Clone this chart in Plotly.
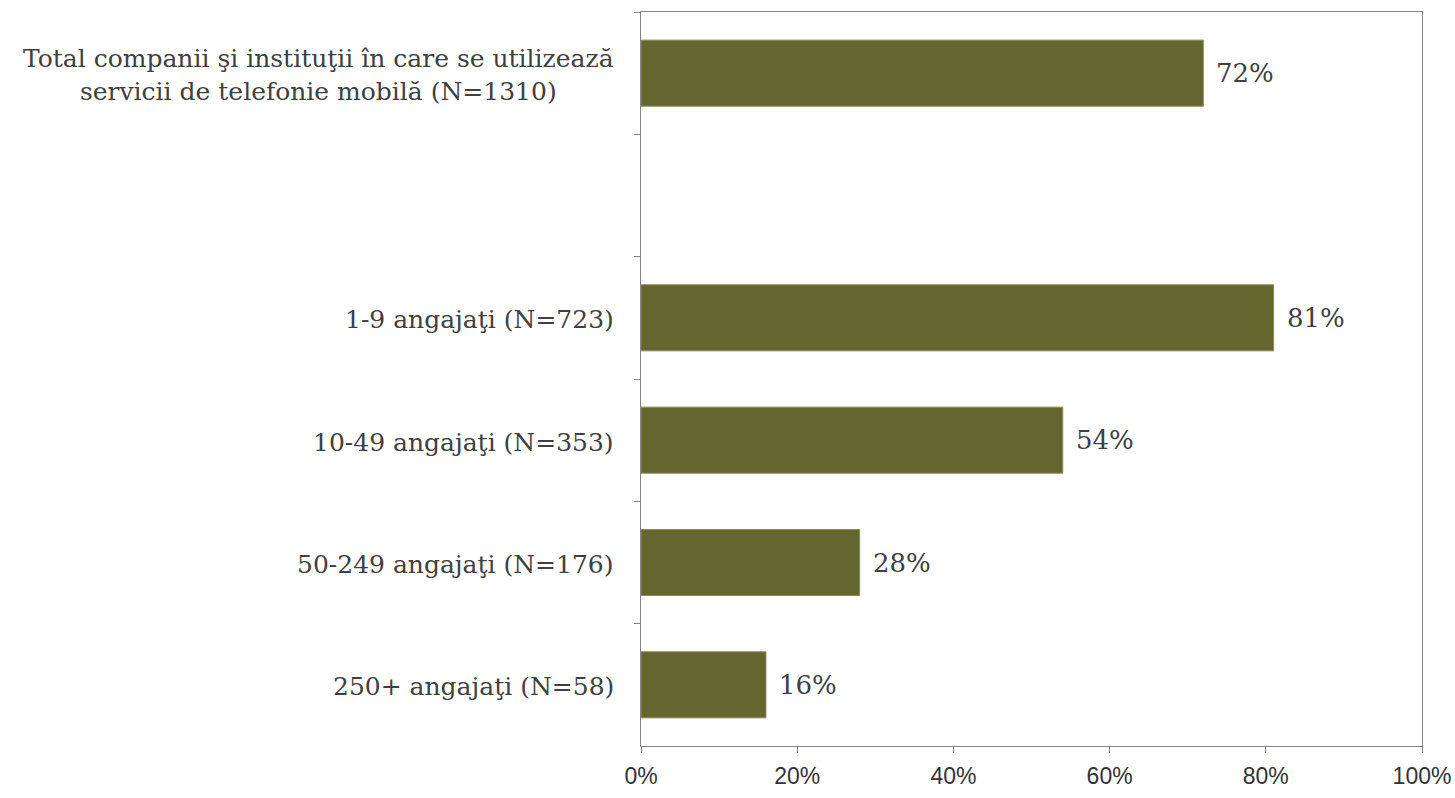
import plotly.graph_objects as go

categories = [
    "Total companii şi instituţii în care se utilizează<br>servicii de telefonie mobilă (N=1310)",
    " ",
    "1-9 angajaţi (N=723)",
    "10-49 angajaţi (N=353)",
    "50-249 angajaţi (N=176)",
    "250+ angajaţi (N=58)",
]
values = [72, None, 81, 54, 28, 16]
x_ticks = [0, 20, 40, 60, 80, 100]
x_tick_labels = ["0%", "20%", "40%", "60%", "80%", "100%"]

SERIF = "DejaVu Serif, Liberation Serif, serif"
BAR = "#65652f"

fig = go.Figure()
fig.add_trace(go.Bar(
    y=categories, x=values, orientation="h",
    marker=dict(color=BAR, line=dict(color="#8a8a5a", width=1)),
    width=0.54, showlegend=False, hoverinfo="skip",
))

annotations = []
for c, v in zip(categories, values):
    if c.strip():
        annotations.append(dict(
            x=0, xref="paper", y=c, yref="y", text=c, showarrow=False,
            xanchor="right", yanchor="middle", align="center", xshift=-25,
            yshift=-2,
            font=dict(family=SERIF, size=25, color="#404040"),
        ))
    if v is not None:
        annotations.append(dict(
            x=v, xref="x", y=c, yref="y", text=f"{v}%", showarrow=False,
            xanchor="left", yanchor="middle", xshift=11,
            font=dict(family=SERIF, size=26, color="#404040"),
        ))

fig.update_layout(
    width=1455, height=798,
    margin=dict(l=641, r=33, t=12, b=52, autoexpand=False),
    paper_bgcolor="white", plot_bgcolor="white",
    annotations=annotations,
    xaxis=dict(
        range=[0, 100], tickvals=x_ticks, ticktext=x_tick_labels,
        showgrid=False, zeroline=False, automargin=False,
        showline=True, mirror=True, linecolor="#858585", linewidth=1,
        ticks="outside", ticklen=6, tickcolor="#858585",
        ticklabeloverflow="allow", ticklabelstandoff=3,
        tickfont=dict(family="Liberation Sans, Arial, sans-serif", size=23, color="#333333"),
    ),
    yaxis=dict(
        categoryorder="array", categoryarray=categories, autorange="reversed",
        showticklabels=False, showgrid=False, zeroline=False, automargin=False,
        showline=True, mirror=True, linecolor="#858585", linewidth=1,
        ticks="outside", ticklen=6, tickcolor="#858585", tickson="boundaries",
    ),
)

fig.write_html("out.html", config={"displayModeBar": False},
               post_script="document.body.style.margin='0';")
